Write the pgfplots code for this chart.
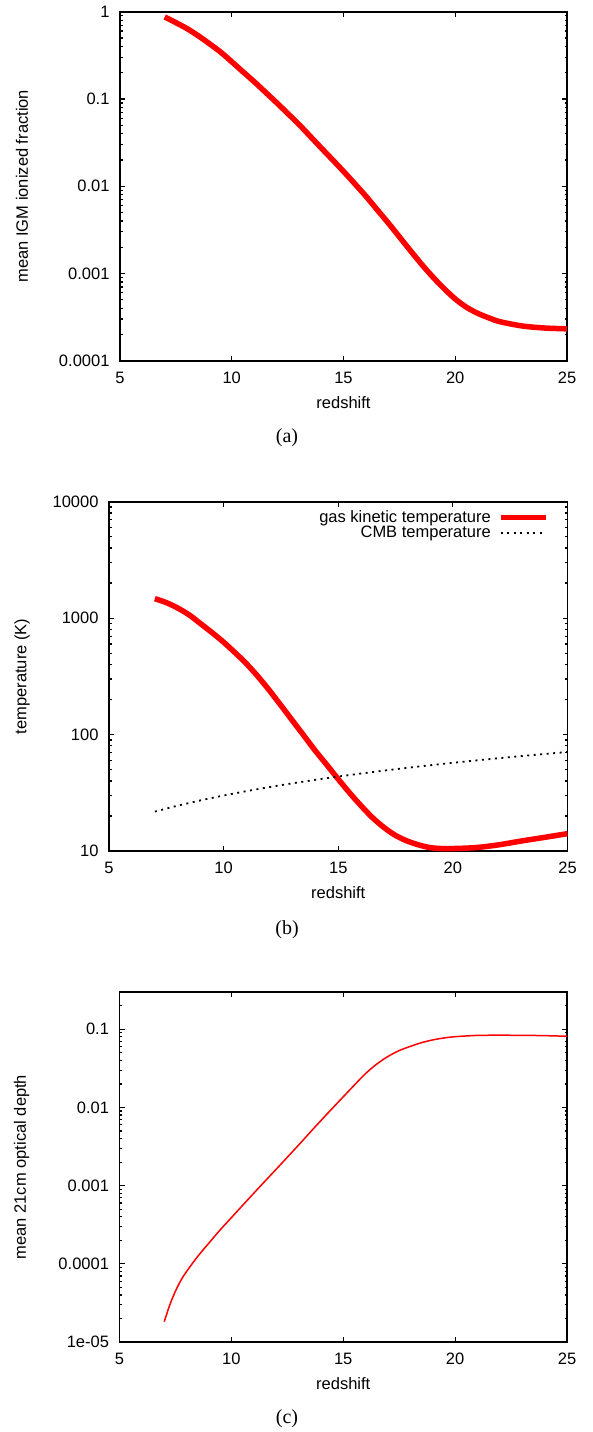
\documentclass[border=0pt]{standalone}
\usepackage{fontspec}
\setmainfont{Liberation Sans}
\newfontfamily\capfont{Liberation Serif}
\usepackage{pgfplots}
\pgfplotsset{compat=1.18}

\pgfplotsset{
  gp/.style={
    scale only axis,
    xmin=5, xmax=25,
    xtick={5,10,15,20,25},
    font=\fontsize{16.5}{19}\selectfont,
    axis line style={line width=1.8pt},
    every tick/.style={black, line width=1.2pt},
    major tick length=5pt,
    minor tick length=2.5pt,
    tick pos=both,
    xticklabel style={anchor=center, yshift=-17pt},
    yticklabel style={anchor=east, xshift=-7pt},
    every axis x label/.style={at={([yshift=-42pt]rel axis cs:0.5,0)}, anchor=center},
    xlabel={redshift},
  },
}

\begin{document}
\begin{tikzpicture}
\path[use as bounding box] (0pt,0pt) rectangle (592pt,-1432pt);

% (a) ionized fraction
\begin{axis}[gp, ymode=log,
    /pgf/number format/assume math mode=true,
    at={(120pt,-360.7pt)}, anchor=south west,
    width=447pt, height=349pt,
    ymin=1e-4, ymax=1,
    ytick={1e-4,1e-3,1e-2,1e-1,1},
    yticklabels={0.0001,0.001,0.01,0.1,1},
    minor ytick={2e-4,3e-4,4e-4,5e-4,6e-4,7e-4,8e-4,9e-4,
                 2e-3,3e-3,4e-3,5e-3,6e-3,7e-3,8e-3,9e-3,
                 0.02,0.03,0.04,0.05,0.06,0.07,0.08,0.09,
                 0.2,0.3,0.4,0.5,0.6,0.7,0.8,0.9},
    every axis y label/.style={at={([xshift=-98pt]rel axis cs:0,0.5)}, rotate=90, anchor=center},
    ylabel={mean IGM ionized fraction},
]
\addplot[red, line width=5.5pt, smooth] table {
7 0.87
7.5 0.75
8 0.64
8.5 0.53
9 0.43
9.5 0.345
10 0.267
10.5 0.205
11 0.158
11.5 0.12
12 0.091
12.5 0.0684
13 0.0513
13.5 0.0376
14 0.0275
14.5 0.0202
15 0.0148
15.5 0.0107
16 0.0077
16.5 0.0054
17 0.0038
17.5 0.00263
18 0.00182
18.5 0.00127
19 0.00091
19.5 0.00067
20 0.00051
20.5 0.00041
21 0.00035
21.5 0.00031
22 0.00028
23 0.00025
24 0.000237
25 0.000232
};
\end{axis}
\node[font=\capfont\fontsize{20}{24}\selectfont] at (287pt,-438pt) {(a)};

% (b) temperatures
\begin{axis}[gp, ymode=log,
    /pgf/number format/assume math mode=true,
    at={(109pt,-851pt)}, anchor=south west,
    width=458.5pt, height=349.3pt,
    ymin=10, ymax=10000,
    ytick={10,100,1000,10000},
    yticklabels={10,100,1000,10000},
    minor ytick={20,30,40,50,60,70,80,90,
                 200,300,400,500,600,700,800,900,
                 2000,3000,4000,5000,6000,7000,8000,9000},
    every axis y label/.style={at={([xshift=-87pt]rel axis cs:0,0.5)}, rotate=90, anchor=center},
    ylabel={temperature (K)},
    legend style={at={(1,1)}, anchor=north east, xshift=-16pt, yshift=-5pt,
      draw=none, fill=none, font=\fontsize{16.5}{17}\selectfont,
      row sep=-2pt, nodes={inner sep=2pt}},
    legend cell align=right,
    legend plot pos=right,
    legend image code/.code={\path (0pt,0pt); \draw[#1] (5pt,0pt) -- (50pt,0pt);},
]
\addplot[red, line width=5.5pt, smooth] table {
7 1470
7.5 1360
8 1220
8.5 1065
9 895
9.5 750
10 622
10.5 505
11 405
11.5 315
12 239
12.5 178
13 132
13.5 98
14 72.6
14.5 55
15 41.4
15.5 31.5
16 24.4
16.5 19.3
17 15.9
17.5 13.6
18 12.2
18.5 11.3
19 10.7
19.5 10.5
20 10.5
21 10.7
22 11.3
23 12.2
24 13.1
25 14.1
};
\addlegendentry{gas kinetic temperature}
\addplot[black, line width=1.8pt, dash pattern=on 2pt off 4.5pt] table {
7 21.80
8 24.53
9 27.25
10 29.98
11 32.70
12 35.43
13 38.15
14 40.88
15 43.60
16 46.33
17 49.05
18 51.78
19 54.50
20 57.23
21 59.95
22 62.68
23 65.40
24 68.13
25 70.85
};
\addlegendentry{CMB temperature}
\end{axis}
\node[font=\capfont\fontsize{20}{24}\selectfont] at (287pt,-930pt) {(b)};

% (c) optical depth
\begin{axis}[gp, ymode=log,
    /pgf/number format/assume math mode=true,
    at={(119.5pt,-1342pt)}, anchor=south west,
    width=447.5pt, height=350pt,
    ymin=1e-5, ymax=0.3,
    ytick={1e-5,1e-4,1e-3,1e-2,1e-1},
    yticklabels={1e-05,0.0001,0.001,0.01,0.1},
    minor ytick={2e-5,3e-5,4e-5,5e-5,6e-5,7e-5,8e-5,9e-5,
                 2e-4,3e-4,4e-4,5e-4,6e-4,7e-4,8e-4,9e-4,
                 2e-3,3e-3,4e-3,5e-3,6e-3,7e-3,8e-3,9e-3,
                 0.02,0.03,0.04,0.05,0.06,0.07,0.08,0.09,0.2,0.3},
    every axis y label/.style={at={([xshift=-98pt]rel axis cs:0,0.5)}, rotate=90, anchor=center},
    ylabel={mean 21cm optical depth},
]
\addplot[red, line width=1.5pt, smooth] table {
7 1.82e-5
7.25 3.0e-5
7.5 4.47e-5
7.75 6.2e-5
8 8.0e-5
8.5 1.25e-4
9 1.85e-4
9.5 2.72e-4
10 3.9e-4
11 8.0e-4
12 1.62e-3
13 3.3e-3
14 6.8e-3
15 0.0137
15.5 0.0194
16 0.0272
16.5 0.036
17 0.045
17.5 0.0535
18 0.0605
18.5 0.0675
19 0.0732
19.5 0.0775
20 0.0805
21 0.0836
22 0.084
23 0.0838
24 0.083
25 0.0815
};
\end{axis}
\node[font=\capfont\fontsize{20}{24}\selectfont] at (287pt,-1419pt) {(c)};
\end{tikzpicture}
\end{document}
